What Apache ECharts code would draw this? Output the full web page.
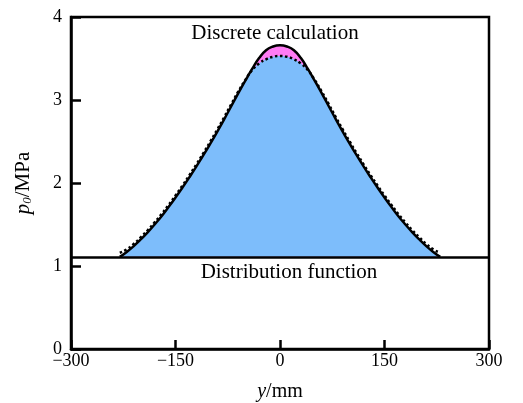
<!DOCTYPE html>
<html>
<head>
<meta charset="utf-8">
<script src="https://cdn.jsdelivr.net/npm/echarts@6/dist/echarts.min.js"></script>
<style>html,body{margin:0;padding:0;background:#fff}#c{width:523px;height:403px}</style>
</head>
<body>
<div id="c"></div>
<script>
// y positions (mm)
const yPos = [-230,-220,-210,-200,-190,-180,-170,-160,-150,-140,-130,-120,-110,-100,-90,-80,-70,-60,-50,-40,-30,-20,-10,0,
  10,20,30,40,50,60,70,80,90,100,110,120,130,140,150,160,170,180,190,200,210,220,230];
// Discrete calculation (solid line), MPa
const discrete = [1.11,1.17,1.24,1.32,1.405,1.50,1.60,1.71,1.825,1.945,2.07,2.20,2.335,2.475,2.62,2.77,2.925,3.08,3.23,3.375,3.505,3.60,3.645,3.66,
  3.645,3.60,3.505,3.375,3.23,3.08,2.925,2.77,2.62,2.475,2.335,2.20,2.07,1.945,1.825,1.71,1.60,1.50,1.405,1.32,1.24,1.17,1.11];
// Distribution function (dotted line), MPa
const distribution = [1.16,1.20,1.265,1.345,1.43,1.525,1.625,1.735,1.85,1.97,2.095,2.225,2.36,2.50,2.645,2.795,2.95,3.10,3.24,3.36,3.44,3.49,3.52,3.53,
  3.52,3.49,3.44,3.36,3.24,3.10,2.95,2.795,2.645,2.50,2.36,2.225,2.095,1.97,1.85,1.735,1.625,1.525,1.43,1.345,1.265,1.20,1.16];
const baseLevel = 1.11;
const xTicks = [-300, -150, 0, 150, 300];
const yTicks = [0, 1, 2, 3, 4];

const font = '"Liberation Serif", "DejaVu Serif", serif';
const solidData = yPos.map((x, i) => [x, discrete[i]]);
const dotData = yPos.map((x, i) => [x, distribution[i]]);
const blueData = yPos.map((x, i) => [x, Math.min(discrete[i], distribution[i])]);
const sm = 0.5;

const chart = echarts.init(document.getElementById('c'), null, {renderer: 'canvas'});
chart.setOption({
  animation: false,
  backgroundColor: '#fff',
  grid: {left: 71, right: 34, top: 17, bottom: 54, containLabel: false, outerBoundsMode: 'none',
    show: true, borderColor: '#000', borderWidth: 2.5, backgroundColor: 'transparent'},
  xAxis: {
    type: 'value', min: xTicks[0], max: xTicks[xTicks.length - 1], interval: 150,
    axisLine: {show: true, onZero: false, lineStyle: {color: '#000', width: 2.5}},
    axisTick: {show: true, inside: true, length: 9, lineStyle: {color: '#000', width: 2.5}},
    splitLine: {show: false},
    axisLabel: {color: '#000', fontFamily: font, fontSize: 18, margin: 3,
      formatter: v => String(v).replace('-', '\u2212')},
    name: '{i|y}{n|/mm}', nameLocation: 'middle', nameGap: 33,
    nameTextStyle: {rich: {
      i: {fontFamily: font, fontStyle: 'italic', fontSize: 20, color: '#000'},
      n: {fontFamily: font, fontSize: 20, color: '#000'}
    }}
  },
  yAxis: {
    type: 'value', min: yTicks[0], max: yTicks[yTicks.length - 1], interval: 1,
    axisLine: {show: true, onZero: false, lineStyle: {color: '#000', width: 2.5}},
    axisTick: {show: true, inside: true, length: 10, lineStyle: {color: '#000', width: 2.5}},
    splitLine: {show: false},
    axisLabel: {color: '#000', fontFamily: font, fontSize: 18, margin: 9},
    name: '{i|p}{s|0}{n|/MPa}', nameLocation: 'middle', nameGap: 37, nameRotate: 90,
    nameTextStyle: {rich: {
      i: {fontFamily: font, fontStyle: 'italic', fontSize: 21, color: '#000'},
      s: {fontFamily: font, fontStyle: 'italic', fontSize: 13, color: '#000', verticalAlign: 'bottom', padding: [8, 0, 0, 0]},
      n: {fontFamily: font, fontSize: 21, color: '#000'}
    }}
  },
  series: [
    {type: 'line', data: solidData, showSymbol: false, symbol: 'none', z: 1, smooth: sm,
      lineStyle: {width: 0}, areaStyle: {color: '#FF7BF4', opacity: 1, origin: baseLevel}},
    {type: 'line', data: blueData, showSymbol: false, symbol: 'none', z: 2, smooth: sm,
      lineStyle: {width: 0}, areaStyle: {color: '#7DBDFB', opacity: 1, origin: baseLevel}},
    {type: 'line', data: dotData, showSymbol: false, symbol: 'none', z: 3, smooth: sm,
      lineStyle: {color: '#000', width: 2.5, type: [2.5, 2.5]}},
    {type: 'line', data: solidData, showSymbol: false, symbol: 'none', z: 4, smooth: sm,
      lineStyle: {color: '#000', width: 2.5},
      markLine: {silent: true, symbol: 'none', label: {show: false},
        lineStyle: {color: '#000', width: 2.5, type: 'solid'},
        data: [{yAxis: baseLevel}]}}
  ],
  graphic: [
    {type: 'text', x: 275, y: 33, style: {text: 'Discrete calculation', fontFamily: font, fontSize: 21, fill: '#000', align: 'center', verticalAlign: 'middle'}},
    {type: 'text', x: 289, y: 272, style: {text: 'Distribution function', fontFamily: font, fontSize: 21, fill: '#000', align: 'center', verticalAlign: 'middle'}}
  ]
});
</script>
</body>
</html>
